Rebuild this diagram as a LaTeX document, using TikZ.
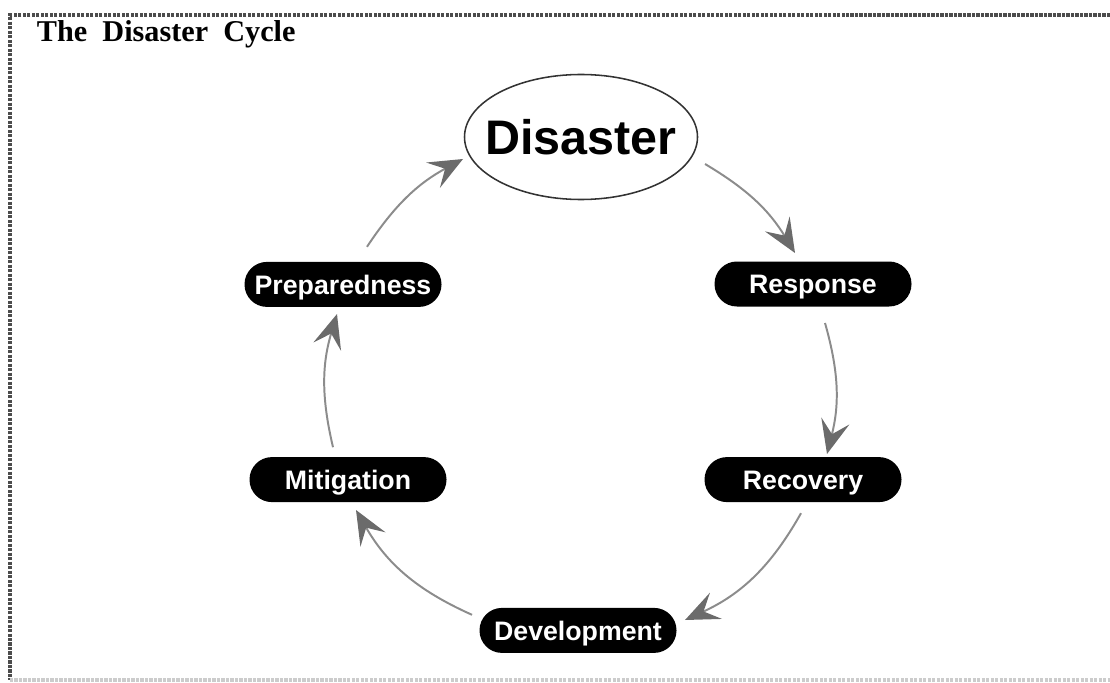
\documentclass[tikz,border=0pt]{standalone}
\usepackage{fontspec}
\setmainfont{Liberation Serif}
\setsansfont{Liberation Sans}
\usetikzlibrary{calc}
\usetikzlibrary{arrows.meta}
\usetikzlibrary{shapes.geometric}
\tikzstyle{stage}=[fill=black, text=white, rounded corners=0.56cm, minimum width=4.925cm, minimum height=1.125cm, inner sep=0pt, text height=13.7pt, text depth=0pt, font=\sffamily\bfseries\fontsize{19}{21}\selectfont]
\tikzstyle{hub}=[ellipse, draw=black!80, line width=1.1pt, minimum width=5.825cm, minimum height=3.125cm, inner xsep=-0.4cm, inner ysep=0pt, font=\sffamily\bfseries\fontsize{34.5}{36}\selectfont]
\tikzstyle{cyc}=[black!45, line width=1.4pt, -{Stealth[length=0.85cm, width=0.72cm, inset=0.34cm, color=black!58]}]
\tikzstyle{frameline}=[black!70, line width=2.2pt, densely dotted]

\begin{document}
\begin{tikzpicture}
		\useasboundingbox (0, 0) rectangle (27.75, 17.05);
		\draw[frameline] (27.75, 16.675) -- (0.25, 16.675) -- (0.25, 0.05);
		\draw[frameline, black!20] (0.25, 0.05) -- (27.75, 0.05);
		\node(title)[anchor=base west, font=\bfseries\fontsize{21.5}{24}\selectfont, align=left] at (0.8, 16.0) {The\ \ Disaster\ \ Cycle};
		\node(dis)[hub] at (14.525, 13.625) {Disaster};
		\node(prep)[stage] at (8.575, 9.94) {Preparedness};
		\node(resp)[stage] at (20.325, 9.95) {Response};
		\node(miti)[stage] at (8.7, 5.06) {Mitigation};
		\node(reco)[stage] at (20.075, 5.06) {Recovery};
		\node(devl)[stage] at (14.45, 1.29) {Development};
		\draw[cyc] ($(dis)+(3.1, -0.675)$) to[bend left=14] ($(resp)+(-0.45, 0.775)$);
		\draw[cyc] ($(resp)+(0.3, -0.975)$) to[bend left=15] ($(reco)+(0.6, 0.64)$);
		\draw[cyc] ($(reco)+(-0.05, -0.84)$) to[bend left=18] ($(devl)+(2.675, 0.26)$);
		\draw[cyc] ($(devl)+(-2.65, 0.39)$) to[bend left=18] ($(miti)+(0.2, -0.76)$);
		\draw[cyc] ($(miti)+(-0.375, 0.81)$) to[bend left=15] ($(prep)+(-0.15, -0.74)$);
		\draw[cyc] ($(prep)+(0.6, 0.94)$) to[bend left=14] ($(dis)+(-2.95, -0.55)$);
\end{tikzpicture}
\end{document}
